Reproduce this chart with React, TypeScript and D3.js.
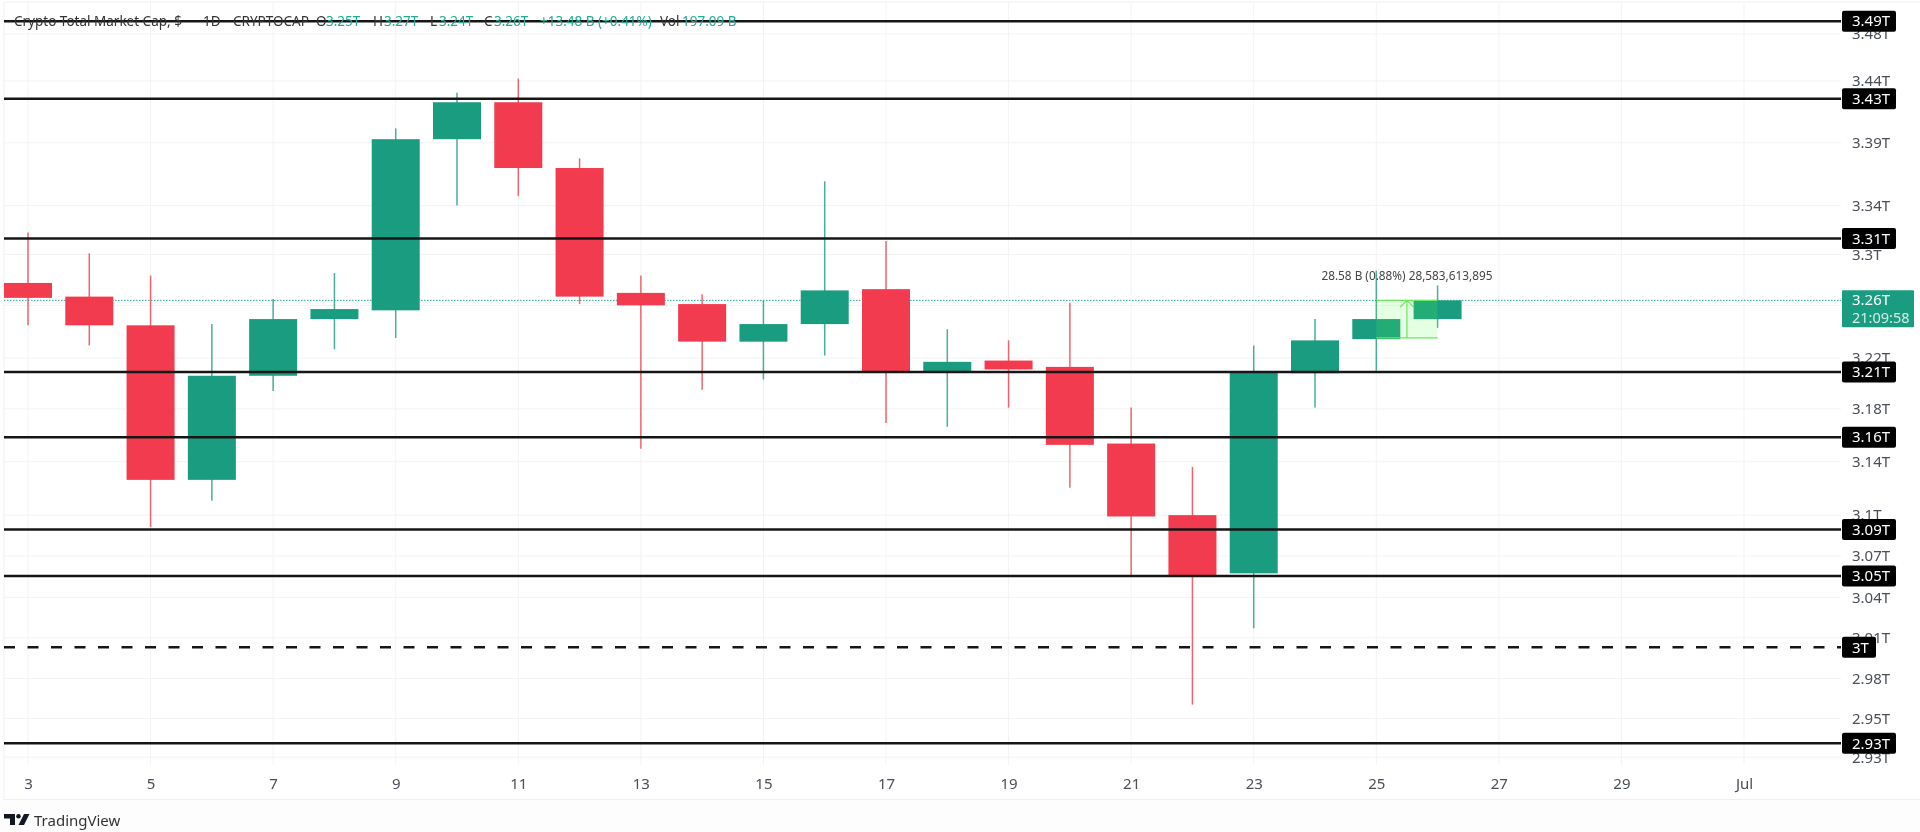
import { useRef, useEffect } from "react";
import * as d3 from "d3";

// values in trillions
const days = [3, 4, 5, 6, 7, 8, 9, 10, 11, 12, 13, 14, 15, 16, 17, 18, 19, 20, 21, 22, 23, 24, 25, 26];
const opens = [3.278, 3.267, 3.244, 3.123, 3.204, 3.249, 3.256, 3.396, 3.427, 3.372, 3.270, 3.261, 3.231, 3.245, 3.273, 3.207, 3.216, 3.211, 3.151, 3.096, 3.052, 3.206, 3.233, 3.249];
const closes = [3.266, 3.244, 3.123, 3.204, 3.249, 3.257, 3.396, 3.427, 3.372, 3.267, 3.260, 3.231, 3.245, 3.272, 3.207, 3.215, 3.209, 3.150, 3.095, 3.05, 3.207, 3.232, 3.249, 3.264];
const highs = [3.319, 3.302, 3.284, 3.245, 3.265, 3.286, 3.405, 3.435, 3.447, 3.38, 3.284, 3.269, 3.264, 3.361, 3.312, 3.241, 3.232, 3.262, 3.179, 3.133, 3.228, 3.249, 3.288, 3.276];
const lows = [3.244, 3.228, 3.087, 3.107, 3.192, 3.225, 3.234, 3.341, 3.349, 3.261, 3.147, 3.193, 3.201, 3.22, 3.167, 3.164, 3.179, 3.117, 3.05, 2.955, 3.011, 3.179, 3.208, 3.242];

const levelValues = [3.496, 3.43, 3.314, 3.207, 3.156, 3.085, 3.05, 2.997, 2.927];
const levelLabels = ["3.49T", "3.43T", "3.31T", "3.21T", "3.16T", "3.09T", "3.05T", "3T", "2.93T"];

const tickValues = [3.485, 3.445, 3.393, 3.341, 3.301, 3.26, 3.218, 3.178, 3.137, 3.096, 3.065, 3.034, 3.004, 2.974, 2.945, 2.917];
const tickLabels = ["3.48T", "3.44T", "3.39T", "3.34T", "3.3T", "3.26T", "3.22T", "3.18T", "3.14T", "3.1T", "3.07T", "3.04T", "3.01T", "2.98T", "2.95T", "2.93T"];
const dayTicks = [3, 5, 7, 9, 11, 13, 15, 17, 19, 21, 23, 25, 27, 29, 31];

const lastPrice = 3.264;
const measureFrom = 3.234;

const header = [
  { x: 14, text: "Crypto Total Market Cap, $", color: "#333" },
  { x: 203, text: "1D", color: "#333" },
  { x: 233, text: "CRYPTOCAP", color: "#333" },
  { x: 316, text: "O", color: "#333" },
  { x: 326, text: "3.25T", color: "#22ab94" },
  { x: 373, text: "H", color: "#333" },
  { x: 384, text: "3.27T", color: "#22ab94" },
  { x: 430, text: "L", color: "#333" },
  { x: 439, text: "3.24T", color: "#22ab94" },
  { x: 484, text: "C", color: "#333" },
  { x: 494, text: "3.26T", color: "#22ab94" },
  { x: 540, text: "+13.48 B (+0.41%)", color: "#22ab94" },
  { x: 660, text: "Vol", color: "#333" },
  { x: 682, text: "197.09 B", color: "#22ab94" },
];

const UP = "#1a9c80";
const DOWN = "#f23b4e";
const FONT = "'Noto Sans', Roboto, sans-serif";

export default function App() {
  const svgRef = useRef<SVGSVGElement>(null);

  useEffect(() => {
    if (!svgRef.current) return;
    const svg = d3.select(svgRef.current);
    svg.selectAll("*").remove();

    const left = 4;
    const plotRight = 1841;
    const plotBottom = 765;

    const x = d3.scaleLinear().domain([3, 31]).range([28, 1744]);
    const y = d3.scaleLog().domain([3.05, 3.43]).range([576, 98.7]);
    const candleW = 48;

    // frame
    svg.append("rect").attr("width", 1920).attr("height", 832).attr("fill", "#fff");
    svg.append("rect").attr("y", 800).attr("width", 1920).attr("height", 32).attr("fill", "#fdfdfd");
    svg
      .append("path")
      .attr("d", `M${left},800V2H1920M${left},799.5H1920`)
      .attr("fill", "none")
      .attr("stroke", "#f0f0f0");

    // grid
    svg
      .append("g")
      .selectAll("line")
      .data(tickValues)
      .join("line")
      .attr("x1", left)
      .attr("x2", plotRight)
      .attr("y1", (d) => y(d))
      .attr("y2", (d) => y(d))
      .attr("stroke", "#f3f3f3");
    svg
      .append("g")
      .selectAll("line")
      .data(dayTicks)
      .join("line")
      .attr("x1", (d) => x(d))
      .attr("x2", (d) => x(d))
      .attr("y1", 2)
      .attr("y2", plotBottom)
      .attr("stroke", "#f3f3f3");

    // axes
    const yAxis = svg
      .append("g")
      .attr("transform", `translate(${plotRight},0)`)
      .call(
        d3
          .axisRight(y)
          .tickValues(tickValues)
          .tickSize(0)
          .tickPadding(11)
          .tickFormat((_, i) => tickLabels[i])
      );
    const xAxis = svg
      .append("g")
      .attr("transform", `translate(0,${plotBottom})`)
      .call(
        d3
          .axisBottom(x)
          .tickValues(dayTicks)
          .tickSize(0)
          .tickPadding(13)
          .tickFormat((d) => (d === 31 ? "Jul" : String(d)))
      );
    [yAxis, xAxis].forEach((axis) => {
      axis.select(".domain").remove();
      axis.selectAll("text").attr("fill", "#4a4e59").style("font-family", FONT).style("font-size", "15px");
    });

    // last price line
    svg
      .append("line")
      .attr("x1", left)
      .attr("x2", plotRight)
      .attr("y1", y(lastPrice))
      .attr("y2", y(lastPrice))
      .attr("stroke", "#22ab94")
      .attr("stroke-width", 1)
      .attr("stroke-dasharray", "1.5 1.5");

    // candles
    const idx = d3.range(days.length);
    const candles = svg.append("g");
    const colorOf = (i: number) => (closes[i] >= opens[i] ? UP : DOWN);
    candles
      .selectAll("line")
      .data(idx)
      .join("line")
      .attr("x1", (i) => x(days[i]))
      .attr("x2", (i) => x(days[i]))
      .attr("y1", (i) => y(highs[i]))
      .attr("y2", (i) => y(lows[i]))
      .attr("stroke", colorOf)
      .attr("stroke-opacity", 0.8)
      .attr("stroke-width", 1.5);
    candles
      .selectAll("rect")
      .data(idx)
      .join("rect")
      .attr("x", (i) => x(days[i]) - candleW / 2)
      .attr("width", candleW)
      .attr("y", (i) => y(Math.max(opens[i], closes[i])))
      .attr("height", (i) => Math.abs(y(opens[i]) - y(closes[i])))
      .attr("fill", colorOf);

    // horizontal levels, drawn over the candles
    svg
      .append("g")
      .selectAll("line")
      .data(levelValues)
      .join("line")
      .attr("x1", left)
      .attr("x2", plotRight)
      .attr("y1", (d) => y(d))
      .attr("y2", (d) => y(d))
      .attr("stroke", "#161616")
      .attr("stroke-width", 2.5)
      .attr("stroke-dasharray", (d) => (d === 2.997 ? "11 12.5" : null));

    // measure tool
    const mx1 = x(25);
    const mx2 = x(26);
    const mMid = (mx1 + mx2) / 2;
    const measure = svg.append("g");
    measure
      .append("rect")
      .attr("x", mx1)
      .attr("width", mx2 - mx1)
      .attr("y", y(lastPrice))
      .attr("height", y(measureFrom) - y(lastPrice))
      .attr("fill", "#5dff4a")
      .attr("fill-opacity", 0.16);
    measure
      .append("path")
      .attr(
        "d",
        `M${mx1},${y(lastPrice)}H${mx2}M${mx1},${y(measureFrom)}H${mx2}M${mMid},${y(measureFrom)}V${y(lastPrice)}M${mMid - 7},${y(lastPrice) + 7}L${mMid},${y(lastPrice)}L${mMid + 7},${y(lastPrice) + 7}`
      )
      .attr("fill", "none")
      .attr("stroke", "#6be85c")
      .attr("stroke-width", 1.2);
    measure
      .append("text")
      .attr("x", mMid)
      .attr("y", y(lastPrice) - 20)
      .attr("text-anchor", "middle")
      .attr("fill", "#444")
      .style("font-family", FONT)
      .style("font-size", "11.8px")
      .text("28.58 B (0.88%) 28,583,613,895");

    // level tags on the price scale
    const tags = svg
      .append("g")
      .selectAll("g")
      .data(levelValues)
      .join("g")
      .attr("transform", (d) => `translate(1842,${y(d)})`);
    tags
      .append("rect")
      .attr("y", -10.5)
      .attr("height", 21)
      .attr("rx", 2)
      .attr("width", (_, i) => (levelLabels[i] === "3T" ? 34 : 54))
      .attr("fill", "#000");
    tags
      .append("text")
      .attr("x", 10)
      .attr("dy", "0.35em")
      .attr("fill", "#fff")
      .style("font-family", FONT)
      .style("font-size", "15px")
      .text((_, i) => levelLabels[i]);

    // last price tag
    const priceTag = svg.append("g").attr("transform", `translate(1842,${y(lastPrice)})`);
    priceTag.append("rect").attr("y", -10).attr("width", 72).attr("height", 37).attr("rx", 1).attr("fill", UP);
    priceTag
      .append("text")
      .attr("x", 10)
      .attr("y", 5)
      .attr("fill", "#fff")
      .style("font-family", FONT)
      .style("font-size", "15px")
      .text("3.26T");
    priceTag
      .append("text")
      .attr("x", 10)
      .attr("y", 23)
      .attr("fill", "#d3eee8")
      .style("font-family", FONT)
      .style("font-size", "14.5px")
      .text("21:09:58");

    // legend line at the top
    svg
      .append("g")
      .selectAll("text")
      .data(header)
      .join("text")
      .attr("x", (d) => d.x)
      .attr("y", 26)
      .attr("fill", (d) => d.color)
      .style("font-family", FONT)
      .style("font-size", "13.5px")
      .text((d) => d.text);

    // TradingView mark
    const logo = svg.append("g").attr("transform", "translate(4,814)").attr("fill", "#131722");
    logo.append("path").attr("d", "M0,0H11V11H6V4.5H0Z");
    logo.append("circle").attr("cx", 14.5).attr("cy", 2.3).attr("r", 2.3);
    logo.append("path").attr("d", "M20,0H25.5L20,11H14.5Z");
    svg
      .append("text")
      .attr("x", 34)
      .attr("y", 826)
      .attr("fill", "#333")
      .style("font-family", FONT)
      .style("font-size", "15px")
      .text("TradingView");
  }, []);

  return (
    <svg
      ref={svgRef}
      width={1920}
      height={832}
      viewBox="0 0 1920 832"
      style={{ position: "absolute", top: 0, left: 0, display: "block", filter: "blur(0.45px)" }}
    />
  );
}
